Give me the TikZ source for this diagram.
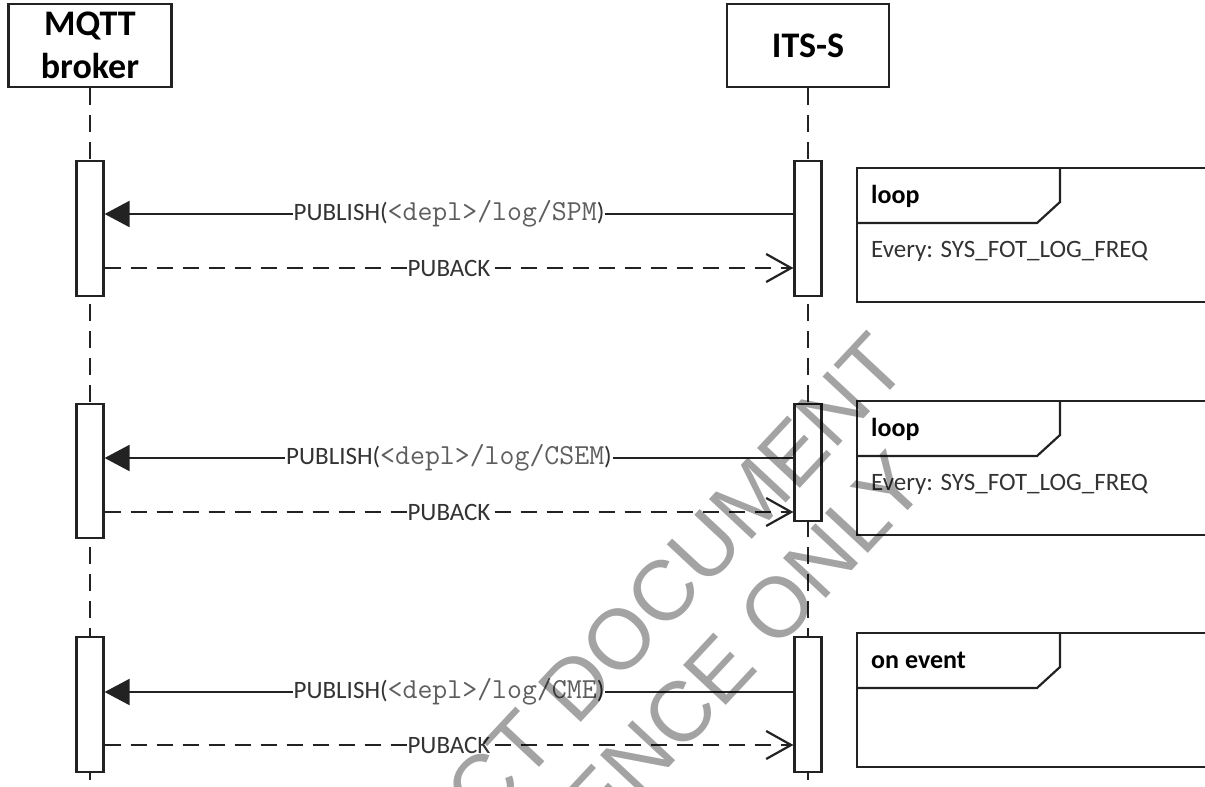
\documentclass[tikz,border=0pt]{standalone}
\usepackage{fontspec}
\setmainfont{Carlito}
\newfontfamily\stampfont{Liberation Sans}
\usetikzlibrary{arrows.meta}

\definecolor{ink}{HTML}{222222}
\definecolor{labelink}{HTML}{333333}
\definecolor{codeink}{HTML}{5E5E5E}

% topic label of a PUBLISH message
\newcommand\topic[1]{PUBLISH({\ttfamily\color{codeink}\fontsize{29}{30}\selectfont <depl>/log/#1})}

\tikzset{
  actor/.style={draw=ink, line width=2.6pt, fill=white, minimum width=163pt,
    minimum height=83pt, inner sep=0pt, align=center, text=black,
    font=\fontsize{36}{43}\selectfont\bfseries},
  life/.style={draw=ink, line width=2.2pt, dash pattern=on 17pt off 10pt},
  actbar/.style={draw=ink, line width=2.2pt, fill=white, minimum width=27pt, inner sep=0pt},
  call/.style={draw=ink, line width=2.2pt, -{Triangle[length=25pt,width=26pt]}},
  reply/.style={draw=ink, line width=2.2pt, dash pattern=on 16pt off 10pt,
    -{Straight Barb[length=25pt,width=28pt]}},
  msglabel/.style={fill=white, inner sep=1pt, text=labelink, font=\fontsize{25}{30}\selectfont},
  fragline/.style={draw=ink, line width=2.2pt},
  fragtitle/.style={anchor=base west, inner sep=0pt, text=black, font=\fontsize{26}{30}\selectfont\bfseries},
  fragnote/.style={anchor=base west, inner sep=0pt, text=labelink, font=\fontsize{25}{30}\selectfont},
  stamp/.style={anchor=base west, inner sep=0pt, rotate=47, text=black, text opacity=0.36,
    font=\stampfont\fontsize{85}{90}\selectfont},
}

\begin{document}
\begin{tikzpicture}[x=1pt, y=-1pt]
\useasboundingbox (0,0) rectangle (1205,787);
\clip (0,0) rectangle (1205,787);

% participants
\node[actor] (mq) at (90,45.5) {MQTT\\broker};
\node[actor, minimum width=162pt] (its) at (808,45.5) {ITS-S};

% lifelines
\coordinate (bottom) at (0,795);
\draw[life] (mq.south) -- (mq.south |- bottom);
\draw[life] (its.south) -- (its.south |- bottom);

% activation bars
\node[actbar, minimum height=135pt] (b1) at (90,228.5) {};
\node[actbar, minimum height=135pt] (i1) at (808,228.5) {};
\node[actbar, minimum height=134pt] (b2) at (90,471) {};
\node[actbar, minimum height=117pt] (i2) at (808,462.5) {};
\node[actbar, minimum height=135pt] (b3) at (90,704.5) {};
\node[actbar, minimum height=135pt] (i3) at (808,704.5) {};

% message rows
\coordinate (p1) at (0,214);
\coordinate (a1) at (0,268);
\coordinate (p2) at (0,458);
\coordinate (a2) at (0,512);
\coordinate (p3) at (0,692);
\coordinate (a3) at (0,745);

\draw[call] (i1.west |- p1) -- node[msglabel] {\topic{SPM}} (b1.east |- p1);
\draw[reply] (b1.east |- a1) -- node[msglabel] {PUBACK} (i1.west |- a1);
\draw[call] (i2.west |- p2) -- node[msglabel] {\topic{CSEM}} (b2.east |- p2);
\draw[reply] (b2.east |- a2) -- node[msglabel] {PUBACK} (i2.west |- a2);
\draw[call] (i3.west |- p3) -- node[msglabel] {\topic{CME}} (b3.east |- p3);
\draw[reply] (b3.east |- a3) -- node[msglabel] {PUBACK} (i3.west |- a3);

% combined fragments
\foreach \t/\b in {168/302, 401/535, 633/767}{
  \draw[fragline] (1215,\t) -- (857,\t) -- (857,\b) -- (1215,\b);
  \draw[fragline] (857,\t+55) -- (1037,\t+55) -- (1060,\t+34) -- (1060,\t);
}
\node[fragtitle] (f1) at (871,203) {loop};
\node[fragnote] (g1) at (871,257) {Every: SYS\_FOT\_LOG\_FREQ};
\node[fragtitle] (f2) at (871,436) {loop};
\node[fragnote] (g2) at (871,490) {Every: SYS\_FOT\_LOG\_FREQ};
\node[fragtitle] (f3) at (871,668) {on event};

% watermark
\node[stamp] (wm1) at (482.9,828.2) {CT DOCUMENT};
\node[stamp] (wm2) at (599.4,841.9) {ENCE ONLY};
\end{tikzpicture}
\end{document}
